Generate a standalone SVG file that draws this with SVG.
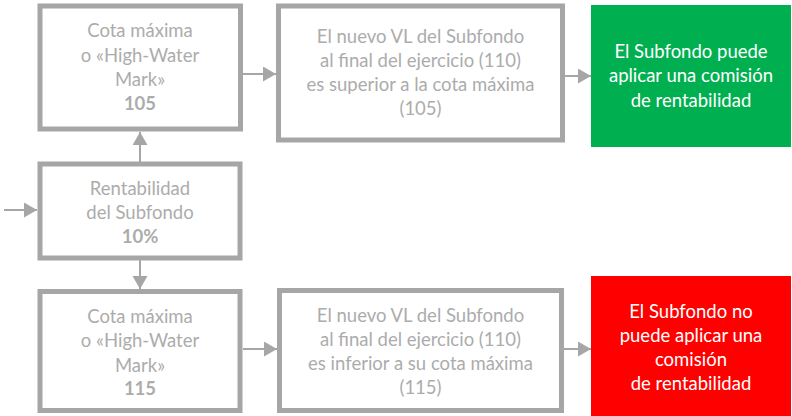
<svg xmlns="http://www.w3.org/2000/svg" width="792" height="416" viewBox="0 0 792 416">
<defs>
<marker id="ah" markerUnits="userSpaceOnUse" markerWidth="14" markerHeight="16" refX="13" refY="7.5" orient="auto">
<path d="M0,0 L13,7.5 L0,15 Z" fill="#a6a6a6"/>
</marker>
<style>
.box{fill:#fff;stroke:#a6a6a6;stroke-width:5}
.t{font-family:Lato,"Open Sans","Liberation Sans",sans-serif;font-size:18.5px;fill:#acacac;text-anchor:middle}
.b{font-weight:bold}
.w{fill:#fff}
.c{stroke:#a6a6a6;stroke-width:2;fill:none;marker-end:url(#ah)}
</style>
</defs>
<rect width="792" height="416" fill="#fff"/>
<g id="connectors">
<line class="c" x1="4" y1="210" x2="37" y2="210"/>
<line class="c" x1="140" y1="162" x2="140" y2="132"/>
<line class="c" x1="140" y1="260" x2="140" y2="289"/>
<line class="c" x1="243" y1="74" x2="276" y2="74"/>
<line class="c" x1="565" y1="76" x2="591" y2="76"/>
<line class="c" x1="243" y1="349" x2="277" y2="349"/>
<line class="c" x1="563" y1="349" x2="591" y2="349"/>
</g>
<g id="hwm105">
<rect class="box" x="40" y="6" width="200.5" height="123"/>
<text class="t" x="140" y="37">Cota máxima</text>
<text class="t" x="140" y="62">o «High-Water</text>
<text class="t" x="140" y="86">Mark»</text>
<text class="t b" x="140" y="110">105</text>
</g>
<g id="vl-superior">
<rect class="box" x="278.5" y="6" width="284" height="134"/>
<text class="t" x="420.5" y="43">El nuevo VL del Subfondo</text>
<text class="t" x="420.5" y="67">al final del ejercicio (110)</text>
<text class="t" x="420.5" y="91">es superior a la cota máxima</text>
<text class="t" x="420.5" y="115">(105)</text>
</g>
<g id="puede">
<rect x="591" y="5" width="200" height="142" fill="#00b050"/>
<text class="t w" x="691" y="58">El Subfondo puede</text>
<text class="t w" x="691" y="82">aplicar una comisión</text>
<text class="t w" x="691" y="107">de rentabilidad</text>
</g>
<g id="rentabilidad">
<rect class="box" x="40" y="164" width="200" height="94"/>
<text class="t" x="140" y="195">Rentabilidad</text>
<text class="t" x="140" y="219">del Subfondo</text>
<text class="t b" x="140" y="243">10%</text>
</g>
<g id="hwm115">
<rect class="box" x="40" y="291.5" width="200" height="119"/>
<text class="t" x="140" y="323">Cota máxima</text>
<text class="t" x="140" y="347">o «High-Water</text>
<text class="t" x="140" y="372">Mark»</text>
<text class="t b" x="140" y="395">115</text>
</g>
<g id="vl-inferior">
<rect class="box" x="279.5" y="290.5" width="282" height="120"/>
<text class="t" x="420.5" y="322">El nuevo VL del Subfondo</text>
<text class="t" x="420.5" y="346">al final del ejercicio (110)</text>
<text class="t" x="420.5" y="370">es inferior a su cota máxima</text>
<text class="t" x="420.5" y="394">(115)</text>
</g>
<g id="no-puede">
<rect x="591" y="276" width="200" height="140" fill="#ff0000"/>
<text class="t w" x="691" y="318">El Subfondo no</text>
<text class="t w" x="691" y="342">puede aplicar una</text>
<text class="t w" x="691" y="366">comisión</text>
<text class="t w" x="691" y="390">de rentabilidad</text>
</g>
</svg>
